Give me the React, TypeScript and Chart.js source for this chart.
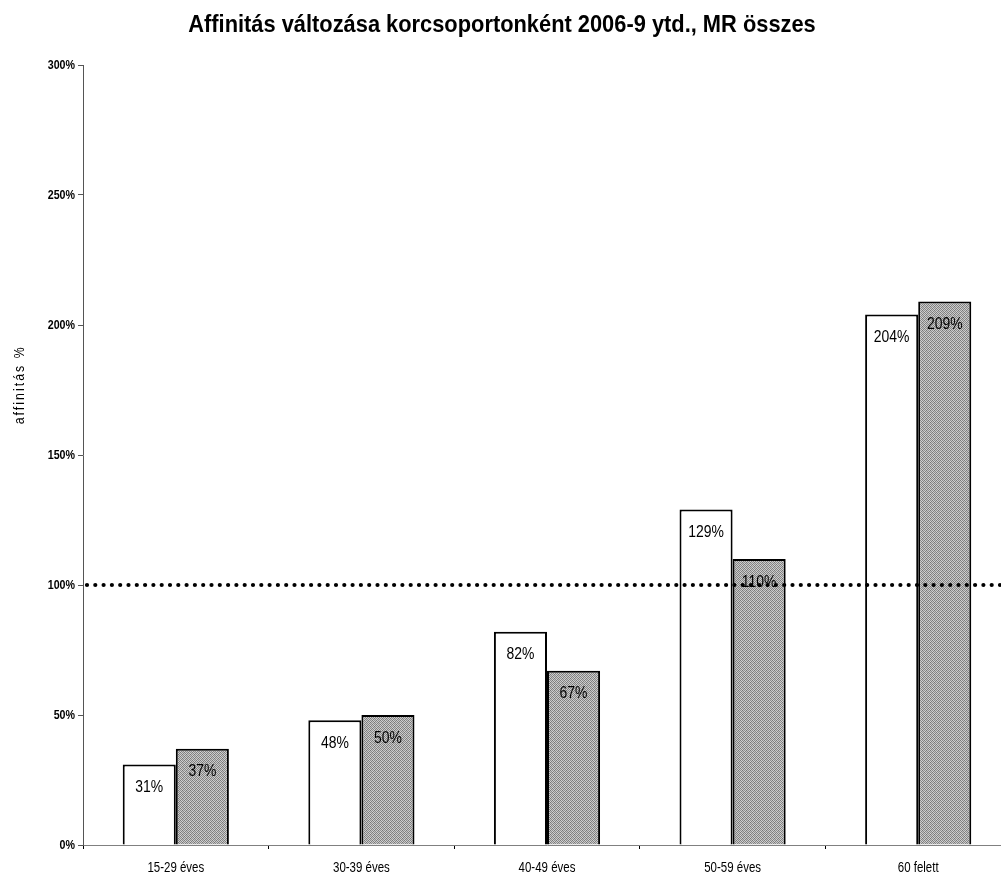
import { useEffect, useRef } from 'react';
import { Chart, registerables } from 'chart.js';

Chart.register(...registerables);

const categories = ['15-29 éves', '30-39 éves', '40-49 éves', '50-59 éves', '60 felett'];
const seriesA = [31, 48, 82, 129, 204];
const seriesB = [37, 50, 67, 110, 209];
const seriesNames = ['Előző', 'Aktuális'];
const yMin = 0;
const yMax = 300;
const yStep = 50;
const referenceValue = 100;
const titleText = 'Affinitás változása korcsoportonként 2006-9 ytd., MR összes';
const yAxisTitle = 'affinitás %';

const SANS = "'Liberation Sans', Arial, sans-serif";
const NARROW = 0.82;

function drawNarrow(
  ctx: CanvasRenderingContext2D,
  text: string,
  x: number,
  y: number,
  font: string,
  align: CanvasTextAlign,
  baseline: CanvasTextBaseline,
  spacing = 0,
  sx = NARROW
) {
  ctx.save();
  ctx.font = font;
  (ctx as any).letterSpacing = `${spacing}px`;
  ctx.textAlign = align;
  ctx.textBaseline = baseline;
  ctx.fillStyle = '#000';
  ctx.translate(x, y);
  ctx.scale(sx, 1);
  ctx.fillText(text, 0, 0);
  ctx.restore();
}

// 4x4 grey dither tile imitating the scanned halftone fill
const ditherTile = [
  [0x7a, 0xd0, 0x8c, 0xc4],
  [0xc8, 0x84, 0xd4, 0x80],
  [0x90, 0xcc, 0x76, 0xc6],
  [0xd2, 0x82, 0xc0, 0x8a],
];

function makePattern(): CanvasPattern | string {
  const c = document.createElement('canvas');
  c.width = 4;
  c.height = 4;
  const g = c.getContext('2d');
  if (!g) return '#a6a6a6';
  ditherTile.forEach((row, yy) =>
    row.forEach((v, xx) => {
      g.fillStyle = `rgb(${v},${v},${v})`;
      g.fillRect(xx, yy, 1, 1);
    })
  );
  const p = g.createPattern(c, 'repeat');
  return p || '#a6a6a6';
}

const titlePlugin = {
  id: 'narrowTitle',
  afterDraw(chart: any) {
    drawNarrow(chart.ctx, titleText, 502, 32, `bold 24px ${SANS}`, 'center', 'alphabetic', 0, 0.91);
  },
};

const tickLabelPlugin = {
  id: 'narrowTicks',
  afterDraw(chart: any) {
    const ctx = chart.ctx;
    const x = chart.scales.x;
    const y = chart.scales.y;
    x.ticks.forEach((t: any, i: number) => {
      const px = x.getPixelForTick(i);
      drawNarrow(ctx, String(x.getLabelForValue(t.value)), px, 872, `14px ${SANS}`, 'center', 'alphabetic');
    });
    y.ticks.forEach((t: any, i: number) => {
      const py = y.getPixelForTick(i);
      drawNarrow(ctx, `${t.value}%`, 75, py, `bold 13px ${SANS}`, 'right', 'middle');
    });
  },
};

const labelsPlugin = {
  id: 'barLabels',
  afterDatasetsDraw(chart: any) {
    const ctx = chart.ctx;
    chart.data.datasets.forEach((ds: any, di: number) => {
      const meta = chart.getDatasetMeta(di);
      meta.data.forEach((bar: any, i: number) => {
        drawNarrow(ctx, `${ds.data[i]}%`, bar.x, bar.y + 23, `17px ${SANS}`, 'center', 'middle');
      });
    });
  },
};

const refLinePlugin = {
  id: 'refLine',
  afterDraw(chart: any) {
    const ctx = chart.ctx;
    const y = chart.scales.y.getPixelForValue(referenceValue);
    ctx.save();
    ctx.strokeStyle = '#000';
    ctx.lineWidth = 4.2;
    ctx.lineCap = 'round';
    ctx.setLineDash([0, 8.3]);
    ctx.beginPath();
    ctx.moveTo(chart.chartArea.left + 4, y);
    ctx.lineTo(chart.width, y);
    ctx.stroke();
    ctx.restore();
  },
};

const yTitlePlugin = {
  id: 'yTitle',
  afterDraw(chart: any) {
    const ctx = chart.ctx;
    const { top, bottom } = chart.chartArea;
    ctx.save();
    ctx.translate(20, top + (bottom - top) * 0.41);
    ctx.rotate(-Math.PI / 2);
    drawNarrow(ctx, yAxisTitle, 0, 0, `15px ${SANS}`, 'center', 'middle', 2.5);
    ctx.restore();
  },
};

export default function App() {
  const ref = useRef<HTMLCanvasElement | null>(null);

  useEffect(() => {
    if (!ref.current) return;
    const chart = new Chart(ref.current, {
      type: 'bar',
      data: {
        labels: categories,
        datasets: [
          {
            label: seriesNames[0],
            data: seriesA,
            backgroundColor: '#ffffff',
            borderColor: '#000000',
            borderWidth: 2,
            barPercentage: 1,
            categoryPercentage: 0.572,
          },
          {
            label: seriesNames[1],
            data: seriesB,
            backgroundColor: makePattern() as any,
            borderColor: '#000000',
            borderWidth: 2,
            barPercentage: 1,
            categoryPercentage: 0.572,
          },
        ],
      },
      options: {
        responsive: false,
        animation: false,
        layout: { padding: { left: 0, right: 0, top: 65, bottom: 0 } },
        plugins: {
          legend: { display: false },
          tooltip: { enabled: false },
          title: { display: false, text: titleText },
        },
        scales: {
          x: {
            offset: true,
            afterFit: (s: any) => {
              s.height = 31;
            },
            grid: {
              offset: true,
              drawOnChartArea: false,
              drawTicks: true,
              tickLength: 4,
              color: '#000',
            },
            border: { display: true, color: '#808080', width: 1 },
            ticks: { display: false },
          },
          y: {
            min: yMin,
            max: yMax,
            afterFit: (s: any) => {
              s.width = 83;
            },
            grid: {
              drawOnChartArea: false,
              drawTicks: true,
              tickLength: 5,
              color: '#555',
            },
            border: { display: true, color: '#555', width: 1 },
            ticks: {
              stepSize: yStep,
              display: false,
              callback: (v: any) => `${v}%`,
            },
          },
        },
      },
      plugins: [labelsPlugin, refLinePlugin, yTitlePlugin, titlePlugin, tickLabelPlugin],
    });
    return () => chart.destroy();
  }, []);

  return (
    <div
      style={{
        position: 'fixed',
        left: 0,
        top: 0,
        width: 1001,
        height: 876,
        overflow: 'hidden',
        background: '#fff',
      }}
    >
      <canvas ref={ref} width={1011} height={876} style={{ display: 'block' }} />
    </div>
  );
}
